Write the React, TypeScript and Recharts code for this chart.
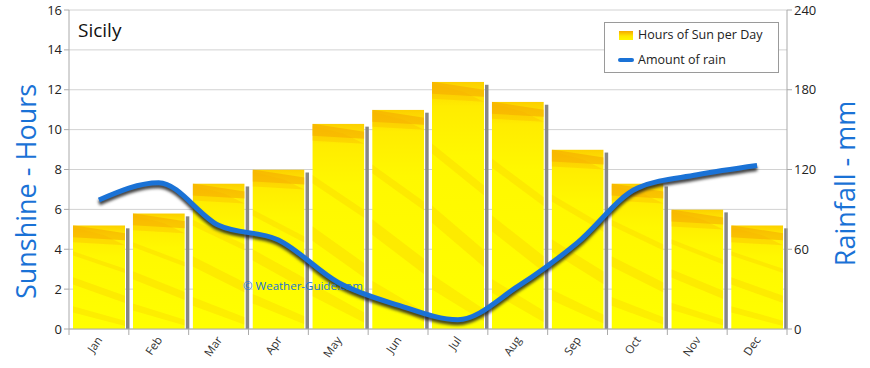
import {
  ComposedChart,
  Bar,
  Line,
  XAxis,
  YAxis,
  CartesianGrid,
  Legend,
} from 'recharts';

const months = ['Jan', 'Feb', 'Mar', 'Apr', 'May', 'Jun', 'Jul', 'Aug', 'Sep', 'Oct', 'Nov', 'Dec'];
const sunHours = [5.2, 5.8, 7.3, 8, 10.3, 11, 12.4, 11.4, 9, 7.3, 6, 5.2];
const rainMm = [97, 110, 78, 67, 35, 18, 7, 32, 65, 106, 116, 123];
const sunTicks = [0, 2, 4, 6, 8, 10, 12, 14, 16];
const rainTicks = [0, 60, 120, 180, 240];

const data = months.map((m, i) => ({ m, sun: sunHours[i], rain: rainMm[i] }));

const FONT = '"Open Sans", "DejaVu Sans", sans-serif';
const BLUE = '#1a72d6';

function SunBar(props: any) {
  const { x, y, width: w, height: h, index } = props;
  if (!h || h <= 0) return null;
  const id = `sunclip-${index}`;
  return (
    <g>
      <rect x={x + w + 1} y={y + 3} width={3.5} height={h - 3} fill="#868686" />
      <clipPath id={id}>
        <rect x={x} y={y} width={w} height={h} />
      </clipPath>
      <g clipPath={`url(#${id})`}>
        <rect x={x} y={y} width={w} height={h} fill="url(#sunFill)" />
        <path d={`M${x},${y} L${x + w},${y + 8} L${x + w},${y + 15} L${x},${y + 12} Z`} fill="#f4a200" opacity={0.5} />
        <path d={`M${x},${y + 2} L${x + w * 0.6},${y + 10} L${x + w},${y + 20} L${x},${y + 17} Z`} fill="#f7b000" opacity={0.3} />
        <path d={`M${x},${y + h * 0.25} L${x + w},${y + h * 0.42} L${x + w},${y + h * 0.46} L${x},${y + h * 0.29} Z`} fill="#f6b400" opacity={0.22} />
        <path d={`M${x},${y + h * 0.5} L${x + w},${y + h * 0.68} L${x + w},${y + h * 0.75} L${x},${y + h * 0.57} Z`} fill="#f5b000" opacity={0.22} />
        <path d={`M${x},${y + h * 0.78} L${x + w},${y + h * 0.92} L${x + w},${y + h * 0.97} L${x},${y + h * 0.84} Z`} fill="#f5b000" opacity={0.2} />
      </g>
    </g>
  );
}

function MonthTick(props: any) {
  const { x, y, payload, index, visibleTicksCount } = props;
  const half = payload && payload.offset ? payload.offset : 30;
  const ax = x + 4;
  const ay = y + 11;
  const isLast = index === visibleTicksCount - 1;
  return (
    <g>
      <line x1={x - half} y1={y} x2={x - half} y2={y + 6} stroke="#aaa" />
      {isLast && <line x1={x + half} y1={y} x2={x + half} y2={y + 6} stroke="#aaa" />}
      <text
        x={ax}
        y={ay}
        transform={`rotate(-55 ${ax} ${ay})`}
        textAnchor="end"
        fontSize={11.5}
        fontFamily={FONT}
        fill="#333"
      >
        {payload.value}
      </text>
    </g>
  );
}

function LegendBox() {
  return (
    <div
      style={{
        width: 173,
        height: 49,
        border: '1px solid #9a9a9a',
        background: '#fff',
        fontFamily: FONT,
        fontSize: 12.5,
        color: '#222',
        position: 'relative',
        textAlign: 'left',
      }}
    >
      <div style={{ position: 'absolute', left: 14, top: 8, width: 14, height: 9, background: 'linear-gradient(#f5a800, #ffe600 55%, #fff600)' }} />
      <div style={{ position: 'absolute', left: 33, top: 3 }}>Hours of Sun per Day</div>
      <div style={{ position: 'absolute', left: 13, top: 35, width: 16, height: 4, background: BLUE, borderRadius: 2 }} />
      <div style={{ position: 'absolute', left: 33, top: 28 }}>Amount of rain</div>
    </div>
  );
}

export default function App() {
  return (
    <div style={{ position: 'relative', width: 870, height: 368 }}>
      <style>{`body{margin:0}.rain-line .recharts-line-curve{filter:drop-shadow(0px 3px 1.5px rgba(30,30,30,0.85))}`}</style>
      <ComposedChart
        width={870}
        height={368}
        data={data}
        margin={{ top: 10, right: 0, bottom: 0, left: 0 }}
        barCategoryGap={4}
      >
        <defs>
          <linearGradient id="sunFill" x1="0" y1="0" x2="0" y2="1">
            <stop offset="0" stopColor="#fcd000" />
            <stop offset="0.1" stopColor="#ffec00" />
            <stop offset="0.3" stopColor="#fff800" />
            <stop offset="1" stopColor="#ffff00" />
          </linearGradient>
        </defs>
        <CartesianGrid yAxisId="sun" vertical={false} stroke="#d2d2d2" />
        <XAxis
          dataKey="m"
          height={39}
          axisLine={{ stroke: '#aaa' }}
          tickLine={false}
          tickSize={0}
          tickMargin={0}
          interval={0}
          tick={<MonthTick />}
        />
        <YAxis
          yAxisId="sun"
          width={69}
          domain={[0, 16]}
          ticks={sunTicks}
          axisLine={{ stroke: '#aaa' }}
          tickLine={{ stroke: '#aaa' }}
          tickSize={5}
          tick={{ fontSize: 13, fill: '#222', fontFamily: FONT }}
          label={{
            content: (p: any) => {
              const vb = p.viewBox;
              const cx = vb.x + 25;
              const cy = vb.y + vb.height / 2 + 22;
              return (
                <text x={cx} y={cy} transform={`rotate(-90 ${cx} ${cy})`} textAnchor="middle" dominantBaseline="central" fontSize={27} fontFamily={FONT} fill={BLUE}>
                  Sunshine - Hours
                </text>
              );
            },
          }}
        />
        <YAxis
          yAxisId="rain"
          orientation="right"
          width={83}
          domain={[0, 240]}
          ticks={rainTicks}
          axisLine={{ stroke: '#aaa' }}
          tickLine={{ stroke: '#aaa' }}
          tickSize={5}
          tick={{ fontSize: 13, fill: '#222', fontFamily: FONT }}
          label={{
            content: (p: any) => {
              const vb = p.viewBox;
              const cx = vb.x + 57;
              const cy = vb.y + vb.height / 2 + 14;
              return (
                <text x={cx} y={cy} transform={`rotate(-90 ${cx} ${cy})`} textAnchor="middle" dominantBaseline="central" fontSize={27} fontFamily={FONT} fill={BLUE}>
                  Rainfall - mm
                </text>
              );
            },
          }}
        />
        <Legend
          layout="horizontal"
          verticalAlign="middle"
          align="center"
          wrapperStyle={{ left: 604, top: 22, width: 175 }}
          content={() => <LegendBox />}
        />
        <Bar
          yAxisId="sun"
          dataKey="sun"
          name="Hours of Sun per Day"
          barSize={52}
          shape={<SunBar />}
          isAnimationActive={false}
        />
        <Line
          yAxisId="rain"
          className="rain-line"
          type="monotone"
          dataKey="rain"
          name="Amount of rain"
          stroke={BLUE}
          strokeWidth={5}
          dot={false}
          activeDot={false}
          isAnimationActive={false}
        />
      </ComposedChart>
      <div style={{ position: 'absolute', left: 78, top: 17, fontFamily: FONT, fontSize: 19, color: '#111' }}>Sicily</div>
      <div style={{ position: 'absolute', left: 243, top: 278, fontFamily: FONT, fontSize: 11.5, color: BLUE }}>© Weather-Guide.com</div>
    </div>
  );
}
